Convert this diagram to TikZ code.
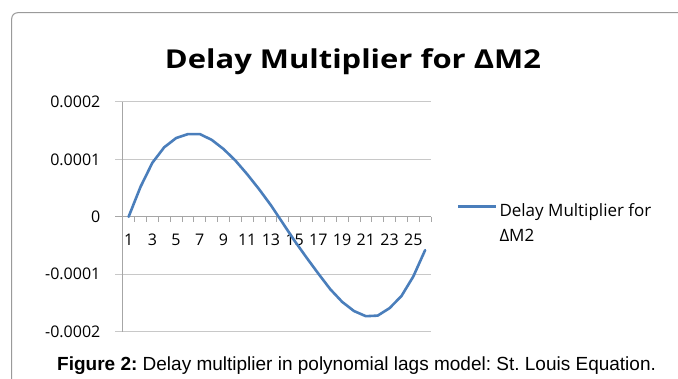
\documentclass[tikz,border=0pt]{standalone}
\usepackage{fontspec}
\setsansfont{Open Sans}
\newfontfamily\capfont{Liberation Sans}
\definecolor{seriesblue}{HTML}{4A7EBB}
\definecolor{gridgray}{HTML}{C8C8C8}
\definecolor{axisgray}{HTML}{A6A6A6}
\definecolor{framegray}{HTML}{9A9A9A}
\frenchspacing

\begin{document}
\begin{tikzpicture}[x=1pt,y=-1pt,
  axislabel/.style={font=\sffamily\fontsize{16}{18}\selectfont, inner sep=0pt},
  legendlabel/.style={font=\sffamily\fontsize{17}{20}\selectfont, anchor=base west, inner sep=0pt},
  gridline/.style={draw=gridgray, line width=1pt},
  curve/.style={draw=seriesblue, line width=2.6pt, line join=round, line cap=round}]

\useasboundingbox (0,0) rectangle (678,378);
\clip (0,0) rectangle (678,378);
\fill[white] (0,0) rectangle (678,378);
\draw[framegray,line width=1pt,rounded corners=6pt] (11.7,12.7) rectangle (720,420);

\node[font=\sffamily\bfseries\fontsize{26}{28}\selectfont, anchor=base, inner sep=0pt, xscale=1.19, transform shape] (title) at (353,68.8) {Delay Multiplier for ΔM2};

% grid and y labels
\foreach \v/\txt in {2/0.0002,1/0.0001,0/0,-1/-0.0001,-2/-0.0002}{
  \draw[gridline] (115,{216.8-57.45*\v}) -- (431,{216.8-57.45*\v});
  \node[axislabel, anchor=east] (ylab\v) at (100.5,{216.8-57.45*\v}) {\txt};
}
\draw[axisgray,line width=1pt] (115,216.8) -- (431,216.8);
\draw[axisgray,line width=1pt] (122.7,102.1) -- (122.7,331.7);

% ticks and x labels
\foreach \k in {0,...,26}
  \draw[axisgray,line width=0.8pt] ({122.7+11.86*\k},216.8) -- ({122.7+11.86*\k},222);
\foreach \i in {1,3,...,25}
  \node[axislabel] (xlab\i) at ({122.7+11.86*(\i-0.5)},240) {\i};

\draw[curve] (128.6,216.8) \foreach \v [count=\i from 2] in
  {0.52,0.94,1.21,1.37,1.44,1.44,1.34,1.18,0.98,0.74,0.48,0.20,-0.11,-0.42,
   -0.71,-0.99,-1.26,-1.48,-1.64,-1.73,-1.72,-1.59,-1.38,-1.04,-0.58}
  { -- ({122.7+11.86*(\i-0.5)},{216.8-57.45*\v}) };

% legend
\coordinate (legstart) at (458,206.7);
\coordinate (legend) at (496,206.7);
\draw[curve,line cap=butt] (legstart) -- (legend);
\node[legendlabel] (legtext) at (499.3,216.7) {Delay Multiplier for};
\node[legendlabel] (legtextb) at (499.3,241.7) {ΔM2};

\node[font=\capfont\fontsize{19}{20}\selectfont, anchor=base west, inner sep=0pt] (caption) at (57,370.7) {\textbf{Figure 2:} Delay multiplier in polynomial lags model: St. Louis Equation.};

\end{tikzpicture}
\end{document}
